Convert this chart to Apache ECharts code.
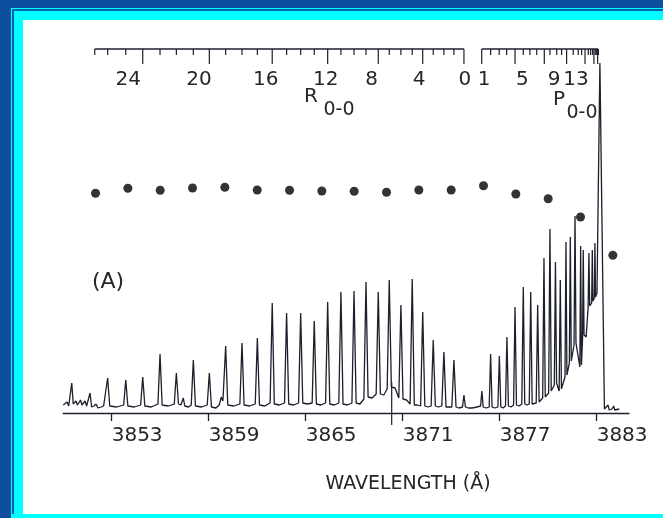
<!DOCTYPE html>
<html>
<head>
<meta charset="utf-8">
<script src="https://cdn.jsdelivr.net/npm/echarts@6.0.0/dist/echarts.min.js"></script>
<style>
  html, body { margin: 0; padding: 0; }
  body { width: 663px; height: 518px; background: #0b4f9e; position: relative; overflow: hidden; }
  .frame { position: absolute; left: 11px; top: 8px; right: 0; bottom: 0; background: #00ffff; }
  .frame-line { position: absolute; left: 12px; top: 9px; right: 0; bottom: 4px; border-left: 2px solid #0b5fb3; border-top: 2px solid #0b5fb3; }
  .paper { position: absolute; left: 23px; top: 20px; right: 0; bottom: 4px; background: #fff; }
  #chart { position: absolute; left: 0; top: 0; width: 663px; height: 518px; }
</style>
</head>
<body>
<div class="frame"></div>
<div class="frame-line"></div>
<div class="paper"></div>
<div id="chart"></div>
<script>
// line positions of the 0-0 band (Angstrom), R0..R27 and P1..
var rBranchWl = [3874.79, 3874.17, 3873.55, 3872.89, 3872.24, 3871.59, 3870.89, 3870.17, 3869.49, 3868.73,
  3867.99, 3867.18, 3866.36, 3865.53, 3864.69, 3863.82, 3862.93, 3862.01, 3861.06, 3860.05,
  3859.04, 3858.05, 3857.00, 3855.99, 3854.92, 3853.87, 3852.75, 3851.95];
var pBranchWl = [3875.89, 3876.44, 3876.97, 3877.43, 3877.95, 3878.46, 3878.87, 3879.29, 3879.76, 3880.11,
  3880.53, 3880.83, 3881.14, 3881.55, 3881.86, 3882.07, 3882.28, 3882.48, 3882.62, 3882.74,
  3882.83, 3882.91, 3882.97, 3883.02, 3883.06, 3883.09, 3883.10];

// numbers written under the rotational scale
var rLabels = ['24', '20', '16', '12', '8', '4', '0'];
var rLabelWl = [3854.03, 3858.40, 3862.53, 3866.24, 3869.08, 3872.01, 3874.85];
var pLabels = ['1', '5', '9', '13'];
var pLabelWl = [3876.03, 3878.41, 3880.36, 3881.72];

// wavelength axis ticks
var xTicks = [3853, 3859, 3865, 3871, 3877, 3883];
var fiducialWl = [3870.32];

// dots
var dotWl = [3852, 3854, 3856, 3858, 3860, 3862, 3864, 3866, 3868, 3870, 3872, 3874, 3876, 3878, 3880, 3882, 3884];
var dotVal = [219.7, 224.7, 222.7, 225, 225.7, 223, 222.7, 222, 221.7, 220.7, 223, 223, 227.3, 219, 214.3, 196, 157.7];

// recorded spectrum (wavelength, intensity)
var trace = [
  [3850.00, 8], [3850.12, 7], [3850.24, 11], [3850.34, 7], [3850.45, 9], [3850.53, 30], [3850.62, 9], [3850.70, 8],
  [3850.79, 12], [3850.88, 8], [3850.97, 10], [3851.07, 13], [3851.16, 8], [3851.26, 10], [3851.35, 12], [3851.45, 7],
  [3851.55, 8], [3851.66, 20], [3851.76, 6], [3851.90, 7], [3852.03, 9], [3852.15, 5], [3852.35, 6], [3852.50, 7],
  [3852.62, 8], [3852.75, 35], [3852.88, 7], [3853.31, 6],
  [3853.74, 8], [3853.87, 33], [3854.00, 7], [3854.40, 6],
  [3854.79, 8], [3854.92, 36], [3855.05, 7], [3855.45, 6],
  [3855.86, 9], [3855.99, 59], [3856.12, 8], [3856.50, 7],
  [3856.87, 9], [3857.00, 40], [3857.13, 9], [3857.28, 8], [3857.43, 15], [3857.52, 7], [3857.75, 6],
  [3857.92, 8], [3858.05, 53], [3858.18, 7], [3858.55, 6],
  [3858.91, 8], [3859.04, 40], [3859.17, 6], [3859.45, 5], [3859.65, 8], [3859.78, 16], [3859.88, 12],
  [3859.95, 14], [3860.05, 67], [3860.18, 8], [3860.55, 7],
  [3860.93, 9], [3861.06, 70], [3861.19, 8], [3861.53, 7],
  [3861.88, 9], [3862.01, 75], [3862.14, 8], [3862.47, 7],
  [3862.80, 10], [3862.93, 110], [3863.06, 9], [3863.37, 8],
  [3863.69, 10], [3863.82, 100], [3863.95, 9], [3864.25, 8],
  [3864.56, 10], [3864.69, 100], [3864.82, 10], [3865.11, 9],
  [3865.40, 10], [3865.53, 92], [3865.66, 9], [3865.95, 8],
  [3866.23, 10], [3866.36, 111], [3866.49, 9], [3866.77, 8],
  [3867.05, 10], [3867.18, 121], [3867.31, 9], [3867.58, 8],
  [3867.86, 10], [3867.99, 122], [3868.12, 10], [3868.36, 9],
  [3868.60, 14], [3868.73, 131], [3868.86, 16], [3869.11, 15],
  [3869.36, 19], [3869.49, 121], [3869.62, 19], [3869.83, 18],
  [3870.04, 24], [3870.17, 133], [3870.30, 26], [3870.53, 25],
  [3870.76, 15], [3870.89, 108], [3871.02, 14], [3871.24, 13],
  [3871.46, 9], [3871.59, 134], [3871.72, 8], [3871.91, 8],
  [3872.11, 7], [3872.24, 101], [3872.37, 7], [3872.56, 6],
  [3872.76, 7], [3872.89, 73], [3873.02, 7], [3873.22, 6],
  [3873.42, 7], [3873.55, 61], [3873.68, 6], [3873.86, 6],
  [3874.04, 6], [3874.17, 53], [3874.30, 6], [3874.48, 5],
  [3874.70, 6], [3874.79, 18], [3874.88, 6], [3874.98, 8], [3875.06, 5], [3875.30, 5], [3875.60, 6],
  [3875.82, 7], [3875.90, 22], [3875.98, 6], [3876.17, 5],
  [3876.35, 6], [3876.44, 59], [3876.53, 6], [3876.71, 5],
  [3876.89, 6], [3876.98, 57], [3877.07, 6], [3877.21, 5],
  [3877.36, 7], [3877.45, 76], [3877.54, 7], [3877.70, 6],
  [3877.86, 8], [3877.95, 106], [3878.04, 8], [3878.20, 7],
  [3878.37, 9], [3878.46, 126], [3878.55, 9], [3878.69, 8],
  [3878.83, 9], [3878.92, 121], [3879.01, 9], [3879.13, 8],
  [3879.26, 10], [3879.35, 108], [3879.44, 11], [3879.55, 10],
  [3879.66, 15], [3879.74, 155], [3879.82, 16], [3879.92, 15],
  [3880.03, 20], [3880.11, 184], [3880.19, 22], [3880.28, 20],
  [3880.38, 28], [3880.45, 151], [3880.52, 30], [3880.60, 28],
  [3880.68, 22], [3880.75, 133], [3880.82, 24], [3880.92, 22],
  [3881.04, 36], [3881.10, 171], [3881.16, 38], [3881.23, 36],
  [3881.31, 50], [3881.37, 176], [3881.43, 52], [3881.51, 50],
  [3881.60, 68], [3881.66, 197], [3881.72, 70], [3881.83, 68],
  [3881.96, 46], [3882.01, 167], [3882.06, 48], [3882.09, 46],
  [3882.13, 76], [3882.17, 163], [3882.22, 78], [3882.35, 76],
  [3882.47, 105], [3882.52, 160], [3882.57, 107], [3882.62, 105],
  [3882.69, 110], [3882.73, 163], [3882.77, 112], [3882.81, 110],
  [3882.86, 115], [3882.89, 170], [3882.93, 116], [3882.98, 115],
  [3883.02, 120], [3883.20, 350], [3883.48, 4],
  [3883.60, 4], [3883.70, 8], [3883.78, 3], [3883.95, 4], [3884.05, 7], [3884.12, 3], [3884.40, 4]
];

var INK = '#1c1f2c';
var TEXT = '#262626';
var RULER_V = 364;

var chart = echarts.init(document.getElementById('chart'));

var rTicks = rBranchWl.map(function (w, j) { return [w, j, j % 4 === 0 ? 1 : 0]; });
var pTicks = pBranchWl.map(function (w, i) { return [w, i + 1, i % 4 === 0 ? 1 : 0]; });
var scaleLabels = rLabelWl.map(function (w, i) { return [w, rLabels[i]]; })
  .concat(pLabelWl.map(function (w, i) { return [w, pLabels[i]]; }));

function rulerTick(params, api) {
  var p = api.coord([api.value(0), RULER_V]);
  var len = api.value(2) ? 15 : 6;
  return {
    type: 'line',
    shape: { x1: p[0], y1: p[1], x2: p[0], y2: p[1] + len },
    style: { stroke: INK, lineWidth: 1.2 }
  };
}

function note(x, y, text, size) {
  return {
    type: 'text', x: x, y: y,
    style: { text: text, font: size + 'px "DejaVu Sans"', fill: TEXT, align: 'center', verticalAlign: 'middle' }
  };
}

var option = {
  animation: false,
  grid: { left: 63.2, right: 34, top: 49, bottom: 105 },
  xAxis: {
    type: 'value',
    min: 3850,
    max: 3885,
    splitLine: { show: false },
    axisLine: { lineStyle: { color: INK, width: 1.3 } },
    axisTick: { customValues: xTicks, length: 8, lineStyle: { color: INK, width: 1.3 } },
    axisLabel: {
      customValues: xTicks,
      align: 'left',
      margin: 13,
      fontFamily: 'DejaVu Sans',
      fontSize: 20,
      color: TEXT,
      formatter: function (v) { return String(v); }
    }
  },
  yAxis: {
    type: 'value',
    min: 0,
    max: 364,
    show: false
  },
  graphic: [
    note(108, 282, '(A)', 22),
    note(311, 97, 'R', 20),
    note(339, 110, '0-0', 19),
    note(559, 100, 'P', 20),
    note(582, 113, '0-0', 19),
    note(408, 484, 'WAVELENGTH (Å)', 19)
  ],
  series: [
    {
      name: 'spectrum',
      type: 'line',
      data: trace,
      showSymbol: false,
      lineStyle: { color: INK, width: 1.3 },
      clip: false
    },
    {
      name: 'dots',
      type: 'scatter',
      data: dotWl.map(function (w, i) { return [w, dotVal[i]]; }),
      symbolSize: 9,
      itemStyle: { color: '#000' }
    },
    {
      name: 'R ruler',
      type: 'line',
      data: [[rBranchWl[rBranchWl.length - 1], RULER_V], [rBranchWl[0], RULER_V]],
      showSymbol: false,
      lineStyle: { color: INK, width: 1.3 },
      clip: false
    },
    {
      name: 'P ruler',
      type: 'line',
      data: [[pBranchWl[0], RULER_V], [pBranchWl[pBranchWl.length - 1], RULER_V]],
      showSymbol: false,
      lineStyle: { color: INK, width: 1.3 },
      clip: false
    },
    {
      name: 'ruler ticks',
      type: 'custom',
      data: rTicks.concat(pTicks),
      renderItem: rulerTick,
      clip: false
    },
    {
      name: 'ruler labels',
      type: 'custom',
      data: scaleLabels,
      renderItem: function (params, api) {
        var p = api.coord([api.value(0), RULER_V]);
        return {
          type: 'text',
          x: p[0],
          y: p[1] + 31,
          style: {
            text: scaleLabels[params.dataIndex][1],
            font: '20px "DejaVu Sans"',
            fill: TEXT,
            align: 'center',
            verticalAlign: 'middle'
          }
        };
      },
      clip: false
    },
    {
      name: 'fiducial',
      type: 'custom',
      data: fiducialWl.map(function (w) { return [w]; }),
      renderItem: function (params, api) {
        var top = api.coord([api.value(0), 31]);
        var bot = api.coord([api.value(0), 0]);
        return {
          type: 'line',
          shape: { x1: top[0], y1: top[1], x2: bot[0], y2: bot[1] + 12 },
          style: { stroke: INK, lineWidth: 1.2 }
        };
      },
      clip: false
    }
  ]
};

chart.setOption(option);
</script>
</body>
</html>
